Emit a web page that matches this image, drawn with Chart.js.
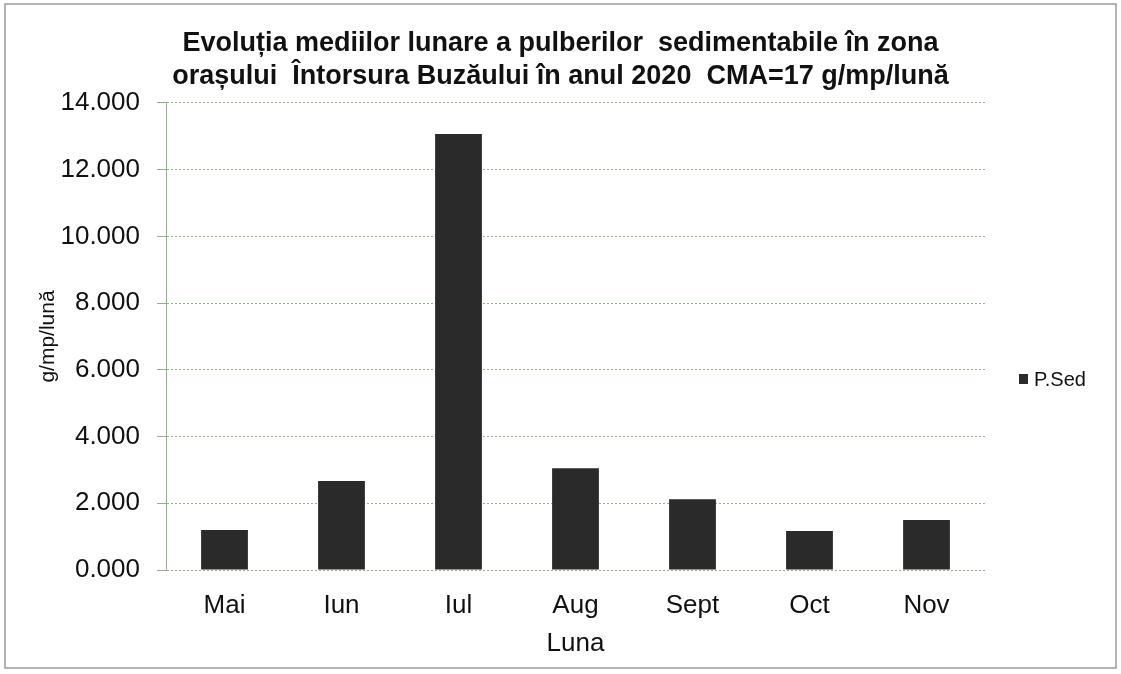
<!DOCTYPE html>
<html>
<head>
<meta charset="utf-8">
<script src="https://cdn.jsdelivr.net/npm/chart.js@4/dist/chart.umd.min.js"></script>
<style>
  html, body { margin: 0; padding: 0; background: #fff; }
  #wrap { width: 1121px; height: 674px; position: relative; }
</style>
</head>
<body>
<div id="wrap"><canvas id="c" width="1121" height="674"></canvas></div>
<script>
const categories = ['Mai', 'Iun', 'Iul', 'Aug', 'Sept', 'Oct', 'Nov'];
const pSed = [1.20, 2.67, 13.07, 3.05, 2.12, 1.17, 1.50];
const seriesLabel = 'P.Sed';
const titleLines = ['Evoluția mediilor lunare a pulberilor  sedimentabile în zona',
                    'orașului  Întorsura Buzăului în anul 2020  CMA=17 g/mp/lună'];
const yTitle = 'g/mp/lună';
const xTitle = 'Luna';
const yMin = 0, yMax = 14, yStep = 2;

const gridColor = 'rgba(125,165,115,0.85)';
const barColor = '#2a2a2a';
const txt = '#111';
const FONT = '"Liberation Sans", Arial, sans-serif';

const frame = {
  id: 'frame',
  beforeDraw(chart) {
    const ctx = chart.ctx;
    ctx.save();
    ctx.fillStyle = '#fff';
    ctx.fillRect(0, 0, chart.width, chart.height);
    ctx.strokeStyle = '#9a9a9a';
    ctx.lineWidth = 1.5;
    ctx.strokeRect(5, 4, chart.width - 10, chart.height - 10);
    ctx.restore();
  }
};

const sideLegend = {
  id: 'sideLegend',
  afterDraw(chart) {
    const ctx = chart.ctx;
    const ds = chart.data.datasets[0];
    const x = chart.chartArea.right + 34;
    const y = 379;
    ctx.save();
    ctx.fillStyle = ds.backgroundColor;
    ctx.fillRect(x, y - 5, 9, 10);
    ctx.fillStyle = txt;
    ctx.font = '20px ' + FONT;
    ctx.textBaseline = 'middle';
    ctx.fillText(ds.label, x + 15, y + 1);
    ctx.restore();
  }
};

new Chart(document.getElementById('c'), {
  type: 'bar',
  data: {
    labels: categories,
    datasets: [{
      label: seriesLabel,
      data: pSed,
      backgroundColor: barColor,
      borderWidth: 0,
      categoryPercentage: 1.0,
      barPercentage: 0.4
    }]
  },
  options: {
    responsive: false,
    animation: false,
    devicePixelRatio: 1,
    layout: { padding: { left: 36, right: 36, top: 27, bottom: 15 } },
    plugins: {
      legend: { display: false },
      tooltip: { enabled: false },
      title: {
        display: true,
        text: titleLines,
        color: txt,
        font: { family: FONT, size: 27, weight: 'bold', lineHeight: 1.222 },
        padding: { top: 0, bottom: 10 }
      }
    },
    scales: {
      x: {
        grid: { display: false, drawTicks: false },
        border: { display: false },
        ticks: {
          color: txt,
          padding: 20,
          font: { family: FONT, size: 26 }
        },
        title: {
          display: true, text: xTitle, color: txt,
          font: { family: FONT, size: 26 },
          padding: { top: 0, bottom: 0 }
        },
        afterFit(scale) { scale.height = 89; }
      },
      y: {
        min: yMin, max: yMax,
        ticks: {
          stepSize: yStep,
          color: txt,
          padding: 17,
          font: { family: FONT, size: 26 },
          callback: v => Number(v).toFixed(3)
        },
        grid: { color: gridColor, lineWidth: 1, tickLength: 9, tickColor: gridColor },
        border: { display: true, color: gridColor, dash: [2, 2] },
        title: {
          display: true, text: yTitle, color: txt,
          font: { family: FONT, size: 21 },
          padding: { top: 0, bottom: 0 }
        },
        afterFit(scale) { scale.width = 130; }
      },
      legendSpace: {
        type: 'linear',
        position: 'right',
        display: true,
        ticks: { display: false },
        grid: { display: false, drawTicks: false },
        border: { display: false },
        title: { display: false },
        afterFit(scale) { scale.width = 100; }
      }
    }
  },
  plugins: [frame, sideLegend]
});
</script>
</body>
</html>
